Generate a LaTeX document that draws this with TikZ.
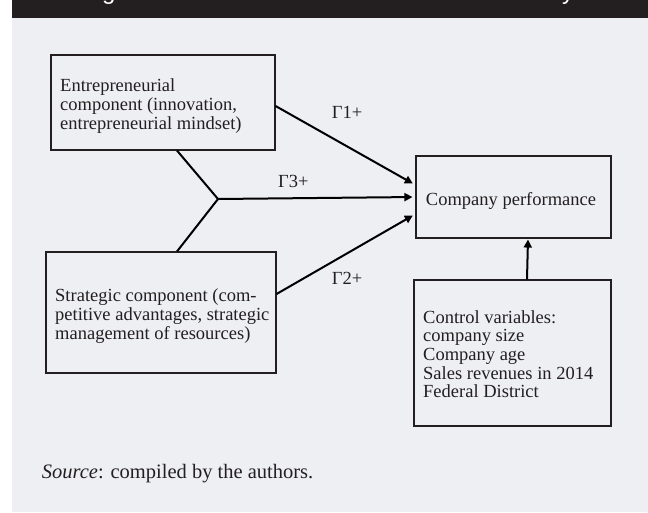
\documentclass[tikz,border=0pt]{standalone}
\usepackage{fontspec}
\setmainfont{Liberation Serif}
\newfontfamily\titlefont{Liberation Sans}
\usetikzlibrary{arrows.meta,calc}
\definecolor{bg}{RGB}{238,239,243}
\definecolor{banner}{RGB}{35,31,32}
\definecolor{ink}{RGB}{35,31,32}
\begin{document}
\begin{tikzpicture}[x=1pt,y=-1pt,
  boxshape/.style={draw=ink, line width=1.1pt, inner sep=0pt},
  txt/.style={font=\fontsize{18.5}{18.6}\selectfont, text=ink, inner sep=0pt, align=left},
  lab/.style={font=\fontsize{18.5}{18.6}\selectfont, text=ink, inner sep=0pt, anchor=base west},
  plainline/.style={line width=2pt, draw=black, line join=miter},
  arr/.style={line width=2pt, draw=black, -{Triangle[length=8pt,width=8pt]}, shorten >=3pt}]
\useasboundingbox (0,0) rectangle (648,512);
\fill[white] (0,0) rectangle (648,512);
\fill[bg] (12,18) rectangle (648,512);
\fill[banner] (12,0) rectangle (648,18);
\begin{scope}
  \clip (12,0) rectangle (648,18);
  \node[anchor=base west, text=white, inner sep=0pt, font=\titlefont\fontsize{24}{24}\selectfont] (tg) at (102,-1) {g};
  \node[anchor=base west, text=white, inner sep=0pt, font=\titlefont\fontsize{24}{24}\selectfont] (ty) at (562,-1) {y};
\end{scope}

% boxes
\node[boxshape, minimum width=224pt, minimum height=95pt] (E) at (163,102.5) {};
\node[boxshape, minimum width=230pt, minimum height=121pt] (S) at (161,312.5) {};
\node[boxshape, minimum width=195pt, minimum height=82pt] (CP) at (513.5,197) {};
\node[boxshape, minimum width=197pt, minimum height=146pt] (CV) at (512.5,353) {};

% box texts
\node[txt, anchor=west] (Et) at (60,106) {Entrepreneurial\\component (innovation,\\entrepreneurial mindset)};
\node[txt, anchor=west] (St) at (55,316) {Strategic component (com-\\petitive advantages, strategic\\management of resources)};
\node[txt, anchor=base] (CPt) at (511,205) {Company performance};
\node[txt, anchor=west] (CVt) at (423,354.2) {Control variables:\\company size\\Company age\\Sales revenues in 2014\\Federal District};

% connectors
\coordinate (J) at (218,199);
\draw[plainline] ([xshift=14pt]E.south) -- (J) -- ([xshift=16pt]S.north);
\draw[arr] (J) -- (CP.west);
\draw[arr] ([yshift=-3.5pt]E.east) -- ([yshift=12pt]CP.west);
\draw[arr] ([yshift=18.5pt]S.east) -- ([yshift=-17pt]CP.west);
\draw[arr, shorten >=1pt] ([xshift=14.5pt]CV.north) -- ([xshift=14.5pt]CP.south);

% labels
\node[lab] (g1) at (331.7,118.3) {Γ1+};
\node[lab] (g3) at (278,187.3) {Γ3+};
\node[lab] (g2) at (331.7,284) {Γ2+};

% source
\node[anchor=base west, inner sep=0pt, text=ink, font=\fontsize{20.5}{20.5}\selectfont] (src) at (41.7,478.3) {\textit{Source}: compiled by the authors.};
\end{tikzpicture}
\end{document}
